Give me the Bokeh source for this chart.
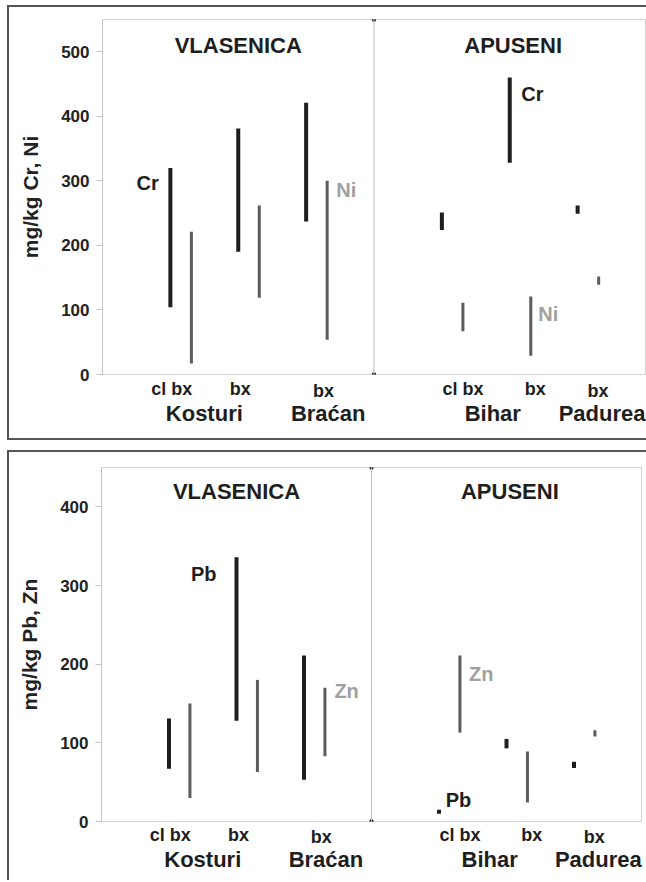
from bokeh.plotting import figure
from bokeh.models import Label, FixedTicker, Span, Spacer, Range1d, LinearAxis
from bokeh.layouts import column, row
from bokeh.embed import file_html
from bokeh.resources import INLINE

# ---------------- data ----------------
sites = ["Kosturi", "Kosturi", "Braćan", "Bihar", "Bihar", "Padurea"]
sample_types = ["cl bx", "bx", "bx", "cl bx", "bx", "bx"]
regions = ["VLASENICA", "APUSENI"]
site_names = ["Kosturi", "Braćan", "Bihar", "Padurea"]

cr_min = [104, 190, 237, 224, 328, 249]
cr_max = [320, 381, 421, 251, 460, 262]
ni_min = [17, 119, 54, 67, 29, 139]
ni_max = [221, 262, 300, 111, 121, 152]

pb_min = [67, 128, 53, 10, 93, 68]
pb_max = [131, 336, 211, 15, 105, 76]
zn_min = [30, 63, 83, 113, 24, 108]
zn_max = [150, 180, 170, 211, 89, 116]

top_ticks = [0, 100, 200, 300, 400, 500]
bottom_ticks = [0, 100, 200, 300, 400]

FONT = "Liberation Sans"
DARK = "#1e1e1e"
GREY_BAR = "#5c5c5c"
GREY_TXT = "#a0a0a0"
BORDER = "2px solid #555555"
W = 639

# x layout: three samples per region, regions occupy halves of 0..16
x_base = [2 + 2 * (i % 3) + 8 * (i // 3) for i in range(len(sites))]
x_second = [x + 0.62 for x in x_base]
type_x = [2.04, 4.06, 6.51, 10.62, 12.75, 14.6]
type_low = [False, False, True, False, False, True]   # labels set slightly lower
site_x = [3.0, 6.65, 11.5, 14.72]
region_x = [4.0, 12.1]


def label_axis(p, xs, texts, size, standoff):
    ax = LinearAxis(ticker=FixedTicker(ticks=list(xs)),
                    major_label_overrides={x: t for x, t in zip(xs, texts)})
    ax.axis_line_color = None
    ax.major_tick_line_color = None
    ax.minor_tick_line_color = None
    ax.major_tick_out = 0
    ax.major_tick_in = 0
    ax.minor_tick_out = 0
    ax.minor_tick_in = 0
    ax.major_label_standoff = standoff
    ax.major_label_text_font = FONT
    ax.major_label_text_font_style = "bold"
    ax.major_label_text_font_size = size
    ax.major_label_text_color = DARK
    p.add_layout(ax, "below")
    return ax


def make_panel(ymax, ticks, ylabel, first_min, first_max, second_min, second_max,
               height, mb_left, mb_right, mb_top, mb_bottom, region_y, standoffs,
               styles, labels):
    p = figure(width=W, height=height, x_range=Range1d(0, 16), y_range=(0, ymax),
               x_axis_type=None, toolbar_location=None, output_backend="svg",
               min_border_left=mb_left, min_border_right=mb_right,
               min_border_top=mb_top, min_border_bottom=mb_bottom,
               background_fill_color="white", border_fill_color="white",
               styles=styles)
    p.outline_line_color = "#d0d0d0"
    p.outline_line_width = 1
    p.ygrid.visible = False

    ax = p.yaxis[0]
    ax.ticker = FixedTicker(ticks=ticks)
    ax.axis_line_color = "#c4c4c4"
    ax.major_tick_line_color = "#c4c4c4"
    ax.major_tick_out = 6
    ax.major_tick_in = 0
    ax.minor_tick_out = 0
    ax.minor_tick_in = 0
    ax.major_label_standoff = 7
    ax.major_label_text_font = FONT
    ax.major_label_text_font_style = "bold"
    ax.major_label_text_font_size = "17px"
    ax.major_label_text_color = "#222222"
    ax.axis_label = ylabel
    ax.axis_label_text_font = FONT
    ax.axis_label_text_font_style = "bold"
    ax.axis_label_text_font_size = "21px"
    ax.axis_label_text_color = "#222222"
    ax.axis_label_standoff = 16

    # category labels below the plot box
    hi = [(x, t) for x, t, low in zip(type_x, sample_types, type_low) if not low]
    lo = [(x, t) for x, t, low in zip(type_x, sample_types, type_low) if low]
    label_axis(p, [x for x, _ in hi], [t for _, t in hi], "18px", standoffs[0])
    label_axis(p, [x for x, _ in lo], [t for _, t in lo], "18px", standoffs[1])
    label_axis(p, site_x, site_names, "22px", standoffs[2])

    # divider between regions
    p.add_layout(Span(location=8, dimension="height", line_color="#bcbcbc", line_width=1))
    p.scatter(x=[8, 8], y=[0, ymax], marker="square", size=3, color="#222222")

    # concentration ranges
    p.segment(x0=x_base, y0=first_min, x1=x_base, y1=first_max,
              line_width=4, line_color=DARK)
    p.segment(x0=x_second, y0=second_min, x1=x_second, y1=second_max,
              line_width=3, line_color=GREY_BAR)

    for rx, rt in zip(region_x, regions):
        p.add_layout(Label(x=rx, y=region_y, text=rt, text_font=FONT,
                           text_font_style="bold", text_font_size="22px",
                           text_color=DARK, text_align="center",
                           text_baseline="middle"))
    for lx, ly, lt, col in labels:
        p.add_layout(Label(x=lx, y=ly, text=lt, text_font=FONT,
                           text_font_style="bold", text_font_size="20px",
                           text_color=col, text_align="left",
                           text_baseline="middle"))
    return p


top = make_panel(550, top_ticks, "mg/kg Cr, Ni", cr_min, cr_max, ni_min, ni_max,
                 height=435, mb_left=93, mb_right=3, mb_top=12, mb_bottom=68,
                 region_y=510, standoffs=(4, -21, -3),
                 styles={"border-left": BORDER, "border-top": BORDER,
                         "border-bottom": BORDER},
                 labels=[(1.0, 297, "Cr", DARK), (12.34, 434, "Cr", DARK),
                         (6.89, 286, "Ni", GREY_TXT), (12.84, 94, "Ni", GREY_TXT)])

bottom = make_panel(450, bottom_ticks, "mg/kg Pb, Zn", pb_min, pb_max, zn_min, zn_max,
                    height=430, mb_left=92, mb_right=7, mb_top=15, mb_bottom=61,
                    region_y=419, standoffs=(3, -21, -3),
                    styles={"border-left": BORDER, "border-top": BORDER},
                    labels=[(2.65, 314, "Pb", DARK), (6.9, 166, "Zn", GREY_TXT),
                            (10.89, 187, "Zn", GREY_TXT), (10.2, 27, "Pb", DARK)])

layout = column(
    Spacer(height=5),
    row(Spacer(width=7), top),
    Spacer(height=10),
    row(Spacer(width=7), bottom),
)

open("out.html", "w").write(file_html(layout, INLINE))
